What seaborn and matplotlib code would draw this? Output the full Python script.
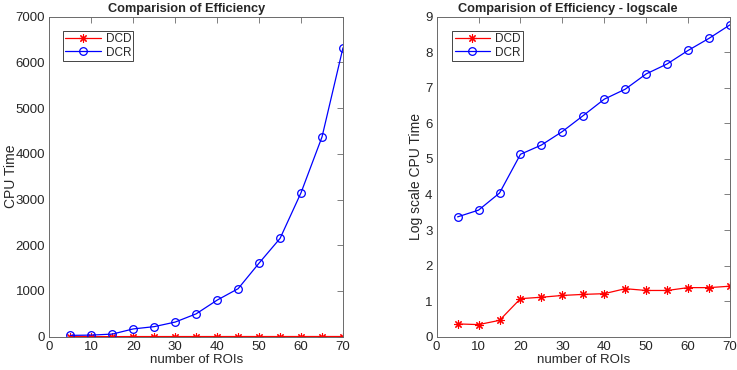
import matplotlib
matplotlib.use("Agg")
import matplotlib.pyplot as plt
import seaborn as sns
import pandas as pd

rois = [5, 10, 15, 20, 25, 30, 35, 40, 45, 50, 55, 60, 65, 70]
# CPU time (linear scale)
dcd_time = [1.4, 1.4, 1.6, 2.9, 3.0, 3.2, 3.3, 3.4, 3.9, 3.7, 3.7, 4.0, 4.0, 4.1]
dcr_time = [29, 35, 57, 170, 220, 320, 500, 800, 1050, 1610, 2150, 3150, 4370, 6320]
# log scale CPU time
dcd_log = [0.36, 0.34, 0.46, 1.07, 1.11, 1.16, 1.19, 1.21, 1.35, 1.30, 1.30, 1.38, 1.38, 1.42]
dcr_log = [3.37, 3.56, 4.04, 5.13, 5.39, 5.77, 6.22, 6.68, 6.96, 7.39, 7.67, 8.05, 8.39, 8.77]

sns.set_style("white")
plt.rcParams['font.family'] = ['Liberation Sans', 'DejaVu Sans']

fig = plt.figure(figsize=(7.37, 3.70), dpi=100)
ax1 = fig.add_axes([0.0669, 0.09, 0.3985, 0.865])
ax2 = fig.add_axes([0.5925, 0.09, 0.398, 0.865])

star = (8, 2, 0)
tick_col = '#262626'
spine_col = '#6a6a6a'

def draw(ax, d, r, title, title_x, ylabel, ylabel_x, ylim, yticks, leg_x):
    sns.lineplot(x=rois, y=d, ax=ax, color='red', marker=star, markersize=6,
                 markeredgecolor='red', markeredgewidth=0.8, linewidth=0.9, label='DCD')
    sns.lineplot(x=rois, y=r, ax=ax, color='blue', marker='o', markersize=5.5,
                 markerfacecolor='none', markeredgecolor='blue', markeredgewidth=0.9,
                 linewidth=0.9, label='DCR')
    ax.set_xlim(0, 70)
    ax.set_ylim(*ylim)
    ax.set_xticks(range(0, 71, 10))
    ax.set_yticks(yticks)
    ax.tick_params(direction='in', length=4, width=0.6, top=True, right=True,
                   labelsize=9.5, labelcolor=tick_col, color=spine_col, pad=3)
    for s in ax.spines.values():
        s.set_color(spine_col)
        s.set_linewidth(0.7)
    t = ax.set_title(title, fontsize=9.2, fontweight='bold', pad=3)
    t.set_x(title_x)
    ax.set_xlabel('number of ROIs', fontsize=9.5, color=tick_col, labelpad=1)
    ax.set_ylabel(ylabel, fontsize=10, color=tick_col)
    ax.yaxis.set_label_coords(ylabel_x, 0.5)
    ax.yaxis.label.set_va('center')
    leg = ax.legend(loc='upper left', bbox_to_anchor=(leg_x, 0.955), fontsize=8.5,
                    frameon=True, fancybox=False, edgecolor=tick_col, framealpha=1,
                    borderpad=0.2, handlelength=3.0, handletextpad=0.4,
                    labelspacing=0.1, borderaxespad=0, numpoints=1)
    leg.get_frame().set_linewidth(0.6)

draw(ax1, dcd_time, dcr_time, 'Comparision of Efficiency', 0.4675, 'CPU Time', -0.132,
     (0, 7000), range(0, 7001, 1000), 0.047)
draw(ax2, dcd_log, dcr_log, 'Comparision of Efficiency - logscale', 0.446,
     'Log scale CPU Time', -0.0716, (0, 9), range(0, 10), 0.053)

fig.savefig('out.png', dpi=100)
